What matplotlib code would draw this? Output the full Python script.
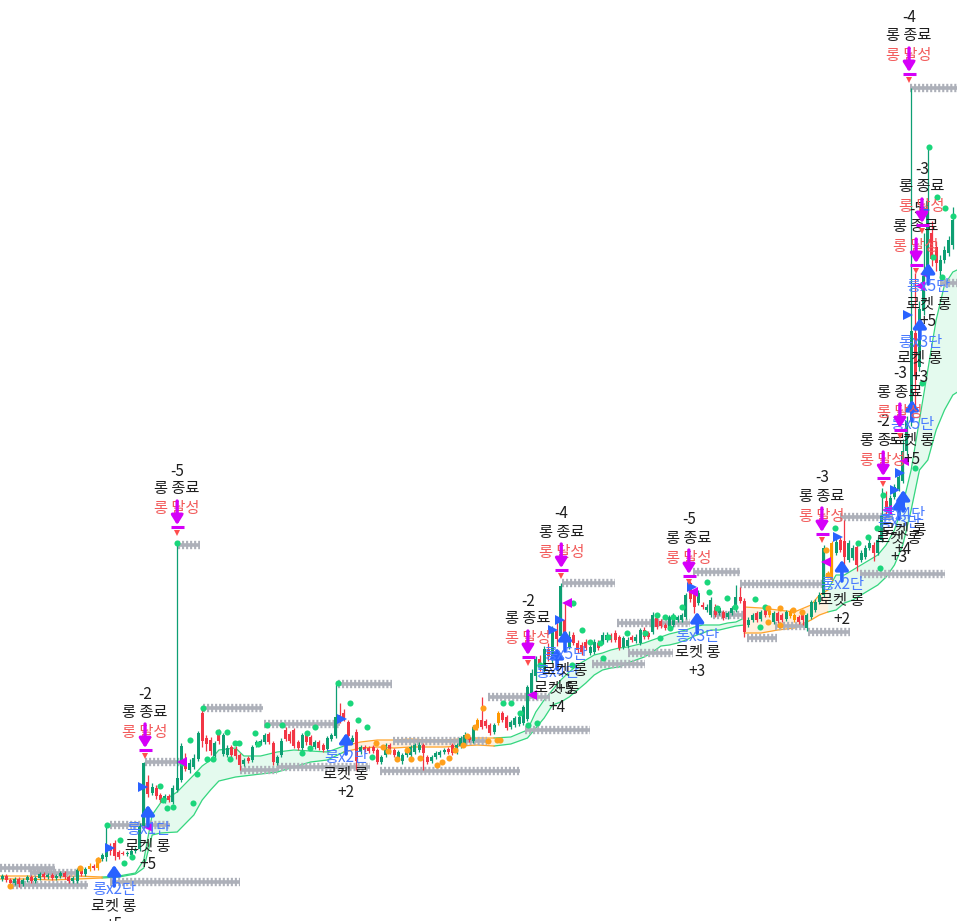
import matplotlib
matplotlib.use('Agg')
import matplotlib.pyplot as plt
import matplotlib.transforms as mtransforms
import numpy as np

plt.rcParams['font.family'] = ['Noto Sans CJK KR', 'DejaVu Sans']
plt.rcParams['lines.scale_dashes'] = False

# ---------------- data ----------------
opens = [42, 45, 41, 38, 42, 37, 41, 44, 40, 43,
         47, 44, 46, 43, 45, 48, 44, 40, 40, 51,
         47, 52, 55, 53, 62, 64, 73, 78, 69, 68,
         67, 66, 70, 72, 95, 139, 128, 133, 126, 120,
         125, 119, 131, 141, 161, 151, 154, 162, 208, 183,
         181, 165, 189, 167, 166, 174, 172, 166, 157, 163,
         161, 176, 178, 179, 187, 178, 158, 166, 191, 187,
         191, 179, 173, 186, 184, 174, 179, 176, 172, 182,
         185, 206, 208, 199, 179, 189, 169, 174, 173, 174,
         171, 159, 166, 176, 171, 163, 160, 166, 166, 169,
         171, 176, 164, 160, 164, 166, 169, 172, 176, 169,
         175, 178, 184, 180, 193, 201, 200, 196, 189, 198,
         208, 204, 194, 196, 197, 198, 202, 228, 245, 262,
         250, 272, 262, 290, 285, 301, 274, 286, 278, 276,
         279, 268, 269, 278, 279, 281, 286, 288, 284, 274,
         275, 284, 280, 278, 291, 288, 289, 303, 300, 296,
         294, 296, 301, 301, 304, 338, 328, 318, 316, 311,
         306, 314, 308, 309, 304, 308, 311, 324, 320, 296,
         301, 308, 302, 311, 306, 299, 308, 306, 302, 305,
         306, 304, 308, 293, 304, 311, 319, 326, 348, 341,
         368, 381, 380, 361, 363, 374, 361, 364, 373, 376,
         368, 381, 420, 410, 424, 432, 440, 470, 500, 588,
         554, 610, 650, 688, 674, 650, 661, 668, 676]
closes = [45, 41, 38, 42, 37, 41, 44, 40, 43, 47,
          44, 46, 43, 45, 48, 44, 40, 43, 51, 47,
          52, 55, 53, 62, 66, 73, 70, 65, 64, 67,
          68, 70, 72, 95, 158, 127, 134, 125, 121, 125,
          121, 133, 143, 175, 152, 158, 163, 188, 180, 177,
          170, 178, 180, 186, 173, 166, 165, 156, 161, 160,
          174, 179, 180, 186, 179, 159, 164, 180, 182, 180,
          175, 173, 186, 179, 176, 179, 173, 171, 183, 186,
          204, 201, 203, 185, 183, 160, 174, 171, 170, 170,
          159, 164, 176, 169, 166, 169, 166, 171, 174, 176,
          176, 168, 159, 164, 168, 169, 171, 169, 168, 176,
          183, 186, 181, 194, 201, 194, 195, 188, 196, 208,
          201, 193, 199, 203, 204, 214, 234, 248, 262, 255,
          272, 265, 290, 282, 335, 282, 284, 278, 271, 269,
          273, 274, 279, 273, 286, 286, 281, 281, 273, 283,
          281, 281, 284, 291, 284, 284, 306, 294, 295, 293,
          304, 306, 304, 306, 326, 322, 314, 328, 314, 314,
          321, 306, 313, 303, 308, 313, 324, 320, 289, 301,
          306, 301, 309, 306, 310, 308, 300, 301, 309, 310,
          301, 299, 301, 306, 319, 319, 326, 373, 346, 378,
          379, 371, 364, 378, 373, 356, 368, 373, 378, 368,
          381, 405, 412, 423, 434, 444, 470, 500, 590, 545,
          612, 645, 720, 662, 658, 661, 671, 681, 701]
highs = [47, 47, 43, 44, 44, 43, 46, 46, 45, 49,
         49, 48, 48, 47, 50, 50, 46, 45, 53, 53,
         54, 58, 57, 64, 68, 96, 78, 81, 71, 70,
         70, 72, 74, 98, 159, 146, 138, 136, 128, 127,
         127, 136, 376, 178, 168, 162, 167, 190, 213, 186,
         184, 180, 192, 188, 176, 176, 175, 168, 163, 165,
         176, 181, 182, 188, 189, 180, 166, 183, 194, 190,
         193, 181, 188, 189, 186, 181, 181, 178, 185, 188,
         238, 218, 212, 201, 186, 192, 176, 176, 175, 176,
         173, 166, 178, 178, 173, 171, 168, 173, 176, 178,
         179, 178, 166, 166, 170, 171, 173, 174, 178, 178,
         185, 189, 186, 196, 203, 224, 202, 198, 198, 210,
         210, 206, 201, 205, 206, 216, 236, 252, 265, 266,
         275, 278, 295, 300, 338, 318, 290, 289, 281, 279,
         282, 276, 282, 281, 289, 289, 288, 291, 286, 285,
         284, 286, 287, 293, 294, 290, 309, 306, 302, 298,
         306, 308, 306, 308, 328, 340, 330, 331, 319, 317,
         324, 317, 315, 311, 310, 315, 336, 334, 323, 304,
         308, 310, 311, 313, 312, 310, 310, 308, 311, 312,
         308, 306, 310, 308, 321, 322, 329, 376, 350, 380,
         382, 384, 401, 381, 376, 377, 371, 376, 384, 379,
         384, 433, 430, 426, 437, 447, 482, 505, 833, 648,
         620, 688, 774, 700, 680, 666, 675, 685, 714]
lows = [40, 39, 35, 36, 34, 35, 39, 38, 38, 41,
        42, 42, 41, 41, 43, 42, 38, 38, 38, 45,
        45, 50, 51, 51, 60, 60, 66, 61, 62, 66,
        65, 64, 68, 70, 93, 124, 126, 122, 119, 118,
        119, 117, 129, 139, 150, 148, 152, 160, 174, 170,
        166, 162, 177, 165, 164, 163, 162, 151, 155, 158,
        159, 174, 176, 177, 177, 156, 156, 164, 180, 178,
        173, 171, 171, 176, 174, 172, 171, 169, 170, 180,
        183, 198, 200, 182, 177, 151, 167, 169, 168, 168,
        157, 157, 164, 167, 164, 161, 157, 164, 164, 167,
        169, 151, 157, 158, 162, 164, 167, 167, 166, 167,
        173, 176, 179, 178, 191, 192, 193, 186, 187, 196,
        199, 191, 192, 194, 195, 196, 200, 224, 240, 250,
        248, 260, 258, 275, 282, 279, 272, 276, 268, 266,
        271, 266, 267, 271, 277, 279, 279, 279, 271, 272,
        273, 279, 278, 276, 282, 282, 287, 292, 293, 291,
        292, 294, 299, 299, 302, 319, 308, 316, 312, 309,
        304, 304, 306, 301, 302, 306, 309, 318, 284, 294,
        299, 299, 300, 304, 304, 297, 298, 299, 300, 303,
        299, 297, 296, 290, 302, 309, 317, 324, 344, 339,
        366, 369, 352, 359, 361, 350, 359, 362, 371, 360,
        366, 379, 404, 408, 422, 430, 438, 466, 495, 510,
        550, 606, 646, 655, 650, 645, 658, 665, 672]
orange_bars = [21, 23, 114, 119, 184, 189, 190, 198, 199]

# trailing dots
gdot_x = [25.2, 28.3, 29.3, 31.2, 37.9, 38.6, 39.6, 41.0, 43.2, 45.1, 45.8, 46.8, 48.2, 49.2, 50.6,
          51.8, 54.0, 54.7, 55.9, 56.8, 60.7, 61.4, 63.5, 67.1, 71.9, 73.1, 73.9, 75.1, 80.6, 83.5,
          85.4, 87.5, 88.7, 120.1, 122.1, 124.2, 126.1, 128.3, 129.0, 136.9, 136.7, 139.1, 141.0,
          143.4, 144.1, 145.3, 149.9, 154.2, 157.1, 157.8, 159.0, 160.9, 160.2, 163.1, 169.1, 169.5,
          171.5, 173.9, 175.8, 180.6, 181.8, 183.0, 199.8, 205.3, 207.7, 209.8, 210.5, 211.3, 218.9,
          220.6, 222.3, 224.2, 226.1, 228.1, 223.3, 225.5, 41.9]
gdot_y = [96, 81, 58, 64, 135, 121, 113, 114, 158, 181, 118, 147, 213, 162, 162,
          189, 189, 162, 178, 178, 188, 177, 196, 196, 168, 188, 173, 194, 238, 218,
          201, 194, 164, 218, 218, 208, 196, 198, 256, 318, 256, 291, 279,
          278, 263, 284, 288, 288, 306, 283, 304, 304, 293, 314, 339, 329,
          313, 323, 314, 322, 294, 314, 393, 378, 384, 393, 353, 426, 453,
          538, 774, 724, 713, 705, 664, 644, 378]
odot_x = [1.9, 18.7, 23.0, 89.7, 91.4, 92.6, 94.7, 97.1, 98.1, 100.2, 104.3, 105.5, 107.2, 108.6,
          110.6, 111.5, 113.4, 115.3, 116.5, 118.7, 119.4, 183.7, 186.6, 189.7, 191.8, 183.7, 186.6,
          197.6, 198.1]
odot_y = [35, 53, 61, 178, 174, 170, 162, 171, 162, 163, 156, 159, 163, 171,
          176, 185, 194, 213, 180, 181, 181, 313, 313, 311, 309, 299, 296,
          371, 346]

# entry / exit markers
rtri_x = [25.9, 33.8, 81.5, 132.1, 133.8, 165.5, 200.5, 214.1, 215.3, 217.3, 221.3]
rtri_y = [73, 134, 202, 291, 301, 334, 384, 431, 448, 606, 711]
ltri_x = [35.0, 43.2, 127.1, 135.5, 165.7, 197.6, 212.2, 216.3, 220.1, 221.3]
ltri_y = [94, 159, 226, 318, 329, 359, 411, 460, 635, 647]

entry_x = [26.9, 35.0, 82.5, 133.1, 135.0, 166.7, 201.4, 215.1, 216.1, 218.2, 220.1, 222.1]
entry_tip = [56, 116, 188, 273, 291, 309, 361, 423, 431, 521, 603, 658]
entry_tag = ['롱x2단', '롱x1단', '롱x2단', '롱x4단', '롱x5단', '롱x3단',
             '롱x2단', '롱x3단', '롱x4단', '롱x5단', '롱x3단', '롱x5단']
entry_lvl = ['+5', '+5', '+2', '+4', '+5', '+3', '+2', '+3', '+4', '+5', '+3', '+5']

exit_x = [34.3, 42.0, 126.1, 134.1, 164.7, 196.6, 211.3, 215.3, 219.2, 217.5, 220.6]
exit_tip = [173, 396, 266, 353, 347, 389, 445, 493, 658, 849, 698]
exit_lvl = ['-2', '-5', '-2', '-4', '-5', '-3', '-2', '-3', '-5', '-4', '-3']

# level lines (hatched)
hatch_y = [53, 48, 36, 39, 96, 159, 376, 213, 197, 151, 154, 237, 180, 150, 224,
           191, 338, 257, 268, 298, 349, 337, 306, 283, 295, 289, 404, 347, 833, 638]
hatch_x0 = [-0.5, 6.7, 2.4, 25.9, 25.9, 34.3, 42.2, 48.2, 62.8, 57.1, 66.0, 80.6, 93.8, 90.6, 116.5,
            125.4, 134.3, 141.5, 150.1, 147.5, 165.7, 177.0, 170.5, 178.7, 185.4, 193.3, 201.0, 205.8,
            217.7, 225.0]
hatch_x1 = [12.7, 18.0, 20.6, 57.1, 40.3, 43.9, 47.5, 62.6, 81.1, 66.0, 88.2, 93.5, 116.3, 124.2,
            131.4, 141.0, 147.0, 154.2, 160.9, 165.0, 177.0, 196.6, 178.2, 185.9, 193.0, 203.4, 213.7,
            226.1, 229.5, 229.5]

# trend bands (green = up regime, orange = range regime)
g1_x = [24, 28, 32, 34, 36, 38, 42, 46, 48, 50, 52, 56, 58, 62, 66, 70, 74, 78, 82]
g1_top = [44, 45, 48, 61, 106, 118, 129, 146, 155, 161, 171, 173, 165, 165, 169, 171, 170, 169, 175]
g1_bot = [43, 44, 47, 53, 86, 88, 89, 106, 121, 131, 140, 144, 145, 147, 149, 154, 159, 161, 169]
g2_x = [118, 122, 126, 128, 130, 132, 134, 136, 138, 140, 142, 144, 146, 148, 150, 152, 154, 156,
        158, 160, 162, 164, 166, 168, 170, 172, 174, 176, 178]
g2_top = [183, 184, 191, 209, 221, 231, 241, 249, 256, 261, 266, 268, 271, 273, 274, 276, 278, 281,
          284, 287, 289, 291, 294, 296, 296, 296, 298, 299, 303]
g2_bot = [175, 177, 183, 193, 203, 216, 219, 224, 231, 238, 246, 251, 253, 254, 258, 261, 264, 269,
          275, 276, 278, 281, 285, 288, 291, 291, 293, 295, 296]
g3_x = [198, 200, 202, 204, 206, 208, 210, 212, 214, 216, 218, 220, 222, 224, 226, 228, 229.5]
g3_top = [331, 346, 346, 351, 356, 361, 366, 376, 391, 416, 451, 501, 551, 601, 636, 649, 652]
g3_bot = [309, 311, 318, 321, 326, 331, 336, 344, 356, 376, 411, 451, 461, 491, 511, 526, 530]
o1_x = [-0.5, 6, 12, 18, 24]
o1_top = [45, 45, 44, 45, 44]
o1_bot = [42, 42, 41, 42, 43]
o2_x = [82, 86, 90, 94, 98, 102, 106, 110, 114, 118]
o2_top = [175, 179, 181, 181, 182, 181, 181, 182, 183, 183]
o2_bot = [169, 173, 174, 173, 174, 174, 174, 175, 176, 175]
o3_x = [178, 182, 186, 190, 194, 196, 198]
o3_top = [314, 313, 311, 309, 316, 326, 331]
o3_bot = [288, 288, 291, 293, 301, 306, 309]

# ---------------- style ----------------
UP = '#0e9f73'
DOWN = '#f23645'
ORANGE = '#ff9800'
GDOT = '#1ad67b'
ODOT = '#ffa01c'
BAND_LINE = '#35d67f'
BAND_FILL = '#e4faee'
OBAND_LINE = '#ffa42b'
OBAND_FILL = '#fff0de'
HATCH = '#adb0b9'
BLUE = '#2962ff'
BLUE_TXT = '#4a7bff'
MAG = '#d500f9'
RED_TXT = '#f25a5a'
BLACK = '#1e1e1e'
FS = 11


def pt(px):
    return px * 72.0 / 100.0


fig = plt.figure(figsize=(9.57, 9.21), dpi=100)
ax = fig.add_axes([0, 0, 1, 1])
ax.set_xlim(-0.48, 229.0)
ax.set_ylim(0, 921)
ax.axis('off')

# bands
for bx, bt, bb, lc, fc in [(g1_x, g1_top, g1_bot, BAND_LINE, BAND_FILL),
                           (g2_x, g2_top, g2_bot, BAND_LINE, BAND_FILL),
                           (g3_x, g3_top, g3_bot, BAND_LINE, BAND_FILL),
                           (o1_x, o1_top, o1_bot, OBAND_LINE, OBAND_FILL),
                           (o2_x, o2_top, o2_bot, OBAND_LINE, OBAND_FILL),
                           (o3_x, o3_top, o3_bot, OBAND_LINE, OBAND_FILL)]:
    ax.fill_between(bx, bb, bt, color=fc, lw=0, zorder=1)
    ax.plot(bx, bt, color=lc, lw=0.9, zorder=2)
    ax.plot(bx, bb, color=lc, lw=0.9, zorder=2)

# hatched level lines
ax.hlines(hatch_y, hatch_x0, hatch_x1, colors=HATCH, lw=2.6, zorder=3)
ax.hlines(hatch_y, hatch_x0, hatch_x1, colors=HATCH, lw=6.0,
          linestyles=[(0, (1.5, 1.4))], zorder=3)

# candles
O = np.array(opens, float)
C = np.array(closes, float)
H = np.array(highs, float)
L = np.array(lows, float)
idx = np.arange(len(O))
cols = [UP if c >= o else DOWN for o, c in zip(O, C)]
for b in orange_bars:
    cols[b] = ORANGE
ax.vlines(idx, L, H, colors=cols, lw=0.9, zorder=4)
ax.bar(idx, np.maximum(np.abs(C - O), 0.9), bottom=np.minimum(O, C), width=0.72,
       color=cols, linewidth=0, zorder=4.1)

# dots
ax.plot(gdot_x, gdot_y, 'o', color=GDOT, ms=4.4, mew=0, zorder=5)
ax.plot(odot_x, odot_y, 'o', color=ODOT, ms=4.4, mew=0, zorder=5)

# triangles
ax.plot(rtri_x, rtri_y, '>', color=BLUE, ms=7.5, mew=0, zorder=6)
ax.plot(ltri_x, ltri_y, '<', color=MAG, ms=7.5, mew=0, zorder=6)

# entry signals
for x, tip, tag, lvl in zip(entry_x, entry_tip, entry_tag, entry_lvl):
    ax.annotate('', xy=(x, tip), xytext=(0, -pt(21)), textcoords='offset points',
                arrowprops=dict(arrowstyle='-|>,head_length=0.55,head_width=0.38',
                                color=BLUE, lw=2.6, shrinkA=0, shrinkB=0), zorder=7)
    ax.annotate(tag, xy=(x, tip), xytext=(0, -pt(24)), textcoords='offset points',
                ha='center', va='center', color=BLUE_TXT, fontsize=FS, zorder=8)
    ax.annotate('로켓 롱', xy=(x, tip), xytext=(0, -pt(41)), textcoords='offset points',
                ha='center', va='center', color=BLACK, fontsize=FS, zorder=8)
    ax.annotate(lvl, xy=(x, tip), xytext=(0, -pt(59)), textcoords='offset points',
                ha='center', va='center', color=BLACK, fontsize=FS, zorder=8)

# exit signals
bar_tr = mtransforms.offset_copy(ax.transData, fig=fig, x=0, y=-2, units='dots')
tri_tr = mtransforms.offset_copy(ax.transData, fig=fig, x=0, y=-8, units='dots')
for x, tip, lvl in zip(exit_x, exit_tip, exit_lvl):
    ax.annotate(lvl, xy=(x, tip), xytext=(0, pt(54)), textcoords='offset points',
                ha='center', va='center', color=BLACK, fontsize=FS, zorder=8)
    ax.annotate('롱 종료', xy=(x, tip), xytext=(0, pt(36)), textcoords='offset points',
                ha='center', va='center', color=BLACK, fontsize=FS, zorder=8)
    ax.annotate('롱 달성', xy=(x, tip), xytext=(0, pt(16)), textcoords='offset points',
                ha='center', va='center', color=RED_TXT, fontsize=FS, zorder=8)
    ax.annotate('', xy=(x, tip), xytext=(0, pt(24)), textcoords='offset points',
                arrowprops=dict(arrowstyle='-|>,head_length=0.55,head_width=0.34',
                                color=MAG, lw=2.4, shrinkA=0, shrinkB=0), zorder=9)
    ax.plot([x], [tip], marker='_', ms=pt(13), mew=2.2, color=MAG, transform=bar_tr, zorder=9)
    ax.plot([x], [tip], marker='v', ms=4.2, mew=0, color='#ff4d4d', transform=tri_tr, zorder=9)

fig.savefig('out.png', dpi=100, facecolor='white')
